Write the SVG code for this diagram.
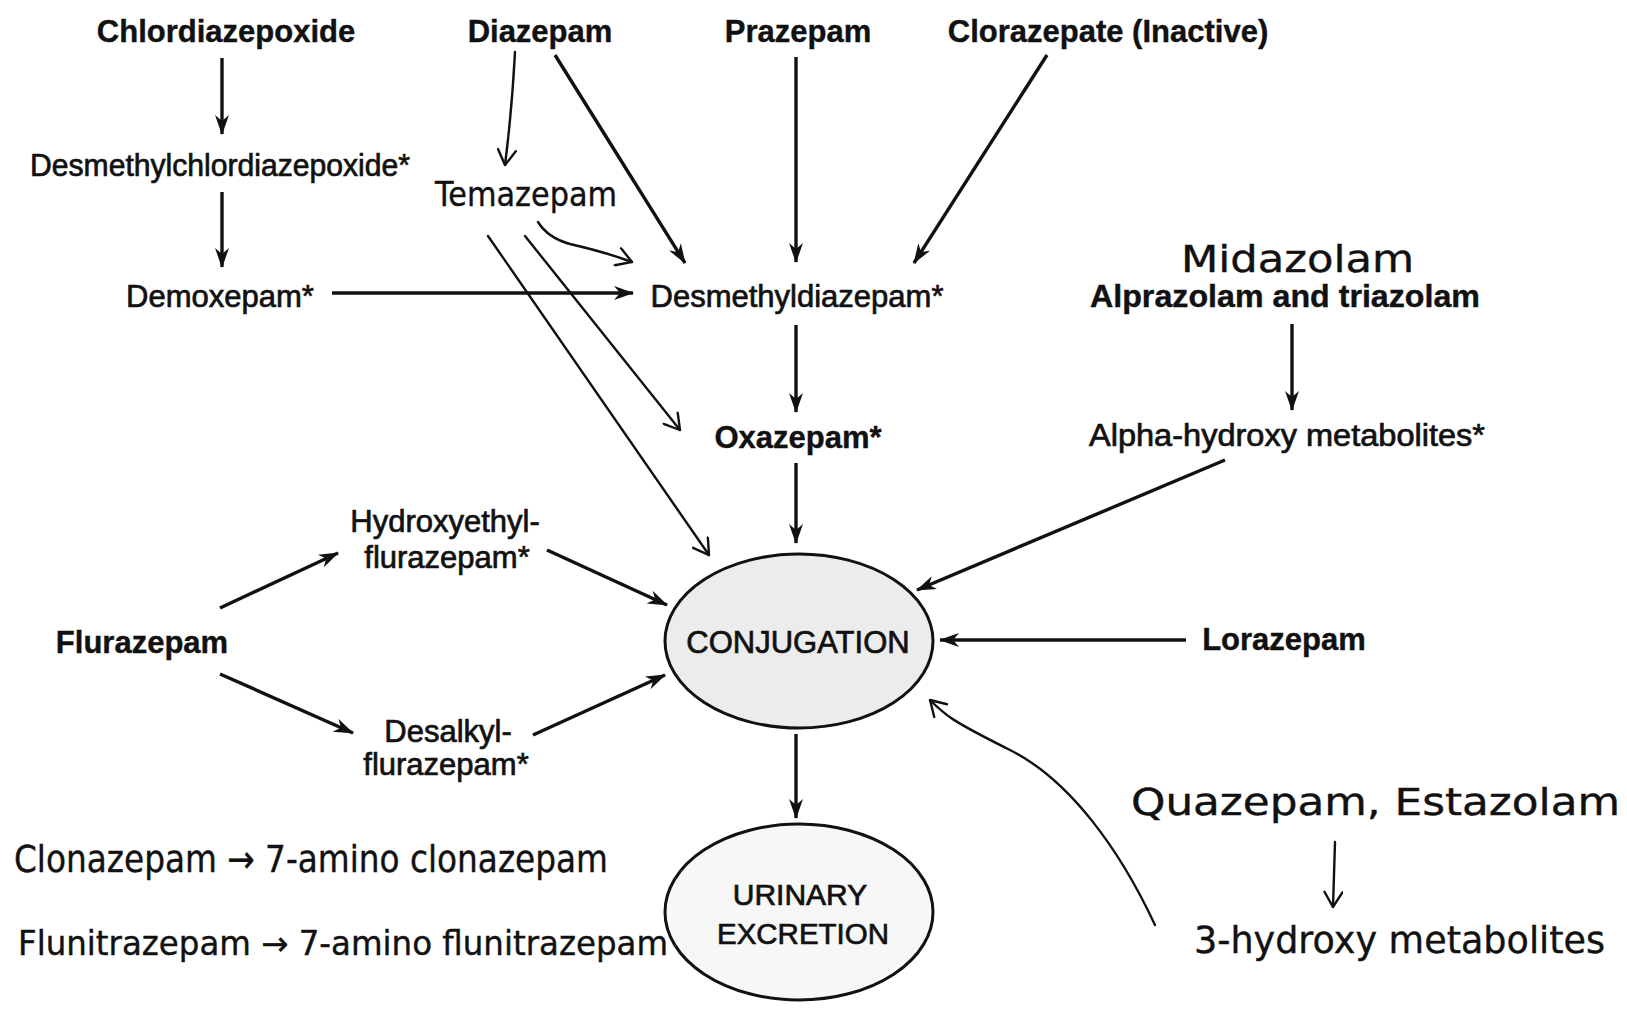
<svg xmlns="http://www.w3.org/2000/svg" width="1627" height="1009" viewBox="0 0 1627 1009">
<style>
.b{font-family:"Liberation Sans",Arial,sans-serif;font-weight:bold;font-size:31px;fill:#111;stroke:#111;stroke-width:0.4;text-anchor:middle}
.r{font-family:"Liberation Sans",Arial,sans-serif;font-size:31px;fill:#111;stroke:#111;stroke-width:0.7;text-anchor:middle}
.h{font-family:"DejaVu Sans",sans-serif;font-size:38px;fill:#111;stroke:#111;stroke-width:0.4}
.p{fill:none;stroke:#111;stroke-width:3.4;marker-end:url(#ah)}
.w{fill:none;stroke:#111;stroke-width:2.4;stroke-linecap:round;marker-end:url(#hh)}
</style>
<defs>
<marker id="ah" viewBox="0 0 20 14" refX="19" refY="7" markerWidth="20" markerHeight="14" orient="auto" markerUnits="userSpaceOnUse">
<path d="M0,0 L20,7 L0,14 L6,7 z" fill="#111"/>
</marker>
<marker id="hh" viewBox="0 0 18 20" refX="17" refY="10" markerWidth="18" markerHeight="20" orient="auto" markerUnits="userSpaceOnUse">
<path d="M2,1 L17,10 L2,19" fill="none" stroke="#111" stroke-width="2.4" stroke-linecap="round"/>
</marker>
</defs>
<rect width="1627" height="1009" fill="#fff"/>

<g id="connectors">
<path class="p" d="M222,58 L222,134"/>
<path class="p" d="M222,192 L222,267"/>
<path class="p" d="M555,55 L685,263"/>
<path class="p" d="M796,57 L796,262"/>
<path class="p" d="M1047,55 L914,263"/>
<path class="p" d="M332,293 L633,293"/>
<path class="p" d="M796,325 L796,412"/>
<path class="p" d="M1292,324 L1292,410"/>
<path class="p" d="M796,463 L796,543"/>
<path class="p" d="M1225,460 L917,590"/>
<path class="p" d="M1186,640 L940,640"/>
<path class="p" d="M220,608 L338,553"/>
<path class="p" d="M547,550 L667,605"/>
<path class="p" d="M220,674 L353,733"/>
<path class="p" d="M533,735 L665,675"/>
<path class="p" d="M796,734 L796,818"/>
<path class="w" d="M515,52 Q512,110 505,165"/>
<path class="w" d="M538,222 Q548,238 570,244 Q605,252 632,262"/>
<path class="w" d="M525,236 L680,430"/>
<path class="w" d="M488,236 L709,555"/>
<path class="w" d="M1155,925 C1120,850 1070,780 1010,750 S945,715 930,700"/>
<path class="w" d="M1335,842 L1333,907"/>
</g>

<g id="chlordiazepoxide"><text class="b" x="226" y="42">Chlordiazepoxide</text></g>
<g id="diazepam"><text class="b" x="540" y="42">Diazepam</text></g>
<g id="prazepam"><text class="b" x="798" y="42">Prazepam</text></g>
<g id="clorazepate"><text class="b" x="1108" y="42">Clorazepate (Inactive)</text></g>
<g id="desmethylchlordiazepoxide"><text class="r" x="220" y="176" textLength="380" lengthAdjust="spacingAndGlyphs">Desmethylchlordiazepoxide*</text></g>
<g id="temazepam"><text class="h" x="435" y="206" textLength="182" lengthAdjust="spacingAndGlyphs" style="font-size:34px">Temazepam</text></g>
<g id="demoxepam"><text class="r" x="220" y="307">Demoxepam*</text></g>
<g id="desmethyldiazepam"><text class="r" x="797" y="307">Desmethyldiazepam*</text></g>
<g id="alprazolam">
<text class="h" x="1181" y="272" textLength="233" lengthAdjust="spacingAndGlyphs">Midazolam</text>
<text class="b" x="1285" y="307" textLength="390" lengthAdjust="spacingAndGlyphs">Alprazolam and triazolam</text>
</g>
<g id="oxazepam"><text class="b" x="798" y="448">Oxazepam*</text></g>
<g id="alpha-hydroxy"><text class="r" x="1287" y="446" textLength="396" lengthAdjust="spacingAndGlyphs">Alpha-hydroxy metabolites*</text></g>
<g id="hydroxyethylflurazepam">
<text class="r" x="445" y="532">Hydroxyethyl-</text>
<text class="r" x="447" y="568">flurazepam*</text>
</g>
<g id="flurazepam"><text class="b" x="142" y="653">Flurazepam</text></g>
<g id="conjugation">
<ellipse cx="799" cy="641" rx="134" ry="87" fill="#ececec" stroke="#111" stroke-width="3"/>
<text class="r" x="798" y="653">CONJUGATION</text>
</g>
<g id="lorazepam"><text class="b" x="1284" y="650">Lorazepam</text></g>
<g id="desalkylflurazepam">
<text class="r" x="448" y="742">Desalkyl-</text>
<text class="r" x="446" y="775">flurazepam*</text>
</g>
<g id="urinary">
<ellipse cx="799" cy="912" rx="134" ry="88" fill="#f7f7f7" stroke="#111" stroke-width="3"/>
<text class="r" x="800" y="905" style="font-size:30px">URINARY</text>
<text class="r" x="803" y="944" style="font-size:30px" textLength="172" lengthAdjust="spacingAndGlyphs">EXCRETION</text>
</g>
<g id="clonazepam"><text class="h" x="14" y="872" textLength="594" lengthAdjust="spacingAndGlyphs">Clonazepam → 7-amino clonazepam</text></g>
<g id="flunitrazepam"><text class="h" x="18" y="955" style="font-size:33px" textLength="650" lengthAdjust="spacingAndGlyphs">Flunitrazepam → 7-amino flunitrazepam</text></g>
<g id="quazepam"><text class="h" x="1131" y="815" textLength="489" lengthAdjust="spacingAndGlyphs">Quazepam, Estazolam</text></g>
<g id="three-hydroxy"><text class="h" x="1194" y="953" textLength="411" lengthAdjust="spacingAndGlyphs">3-hydroxy metabolites</text></g>
</svg>
